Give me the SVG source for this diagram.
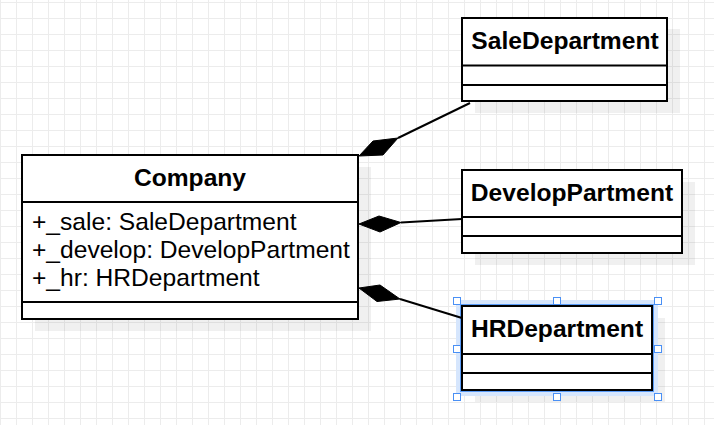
<svg xmlns="http://www.w3.org/2000/svg" width="714" height="425" viewBox="0 0 714 425">
<defs>
<pattern id="grid" x="0" y="2" width="16" height="16" patternUnits="userSpaceOnUse">
<path d="M0.5 0 V16 M0 0.5 H16" fill="none" stroke="#ececec" stroke-width="1"/>
</pattern>
</defs>
<style>
.box{fill:#ffffff;stroke:#000000;stroke-width:2}
.sep{stroke:#000000;stroke-width:2}
.shadow{fill:#000000;fill-opacity:0.06}
.title{font-family:"Liberation Sans",Arial,sans-serif;font-weight:bold;font-size:24.6px;fill:#000000;text-anchor:middle}
.attr{font-family:"Liberation Sans",Arial,sans-serif;font-size:24.6px;fill:#000000}
.conn{stroke:#000000;stroke-width:2;fill:none}
.dia{fill:#000000;stroke:#000000;stroke-width:1}
.handle{fill:#ffffff;stroke:#4a90f5;stroke-width:1}
</style>
<rect width="714" height="425" fill="#ffffff"/>
<rect width="714" height="425" fill="url(#grid)"/>

<g id="company">
<rect class="shadow" x="35" y="167" width="336" height="164"/>
<rect class="box" x="22" y="155" width="336" height="164"/>
<line class="sep" x1="22" y1="202" x2="358" y2="202"/>
<line class="sep" x1="22" y1="302" x2="358" y2="302"/>
<text class="title" x="190" y="186">Company</text>
<text class="attr" x="32" y="230">+_sale: SaleDepartment</text>
<text class="attr" x="32" y="258">+_develop: DevelopPartment</text>
<text class="attr" x="32" y="286">+_hr: HRDepartment</text>
</g>

<g id="saledepartment">
<rect class="shadow" x="475" y="29" width="205" height="84"/>
<rect class="box" x="462" y="18" width="205" height="83"/>
<line class="sep" x1="462" y1="65.5" x2="667" y2="65.5"/>
<line class="sep" x1="462" y1="85" x2="667" y2="85"/>
<text class="title" x="565" y="49">SaleDepartment</text>
</g>

<g id="developpartment">
<rect class="shadow" x="475" y="182" width="220" height="83"/>
<rect class="box" x="462" y="170" width="220" height="83"/>
<line class="sep" x1="462" y1="217" x2="682" y2="217"/>
<line class="sep" x1="462" y1="236" x2="682" y2="236"/>
<text class="title" x="572" y="201">DevelopPartment</text>
</g>

<g id="hrdepartment">
<rect class="shadow" x="475" y="318" width="190" height="84"/>
<rect x="459" y="303" width="196" height="90" fill="none" stroke="#d6e6fd" stroke-width="6"/>
<rect x="461" y="305" width="192" height="86" fill="none" stroke="#5a9cf8" stroke-width="2"/>
<rect class="box" x="462" y="306" width="190" height="84"/>
<line class="sep" x1="462" y1="354" x2="652" y2="354"/>
<line class="sep" x1="462" y1="373" x2="652" y2="373"/>
<text class="title" x="557" y="337">HRDepartment</text>
<rect class="handle" x="453.5" y="297.5" width="7" height="7"/>
<rect class="handle" x="553.5" y="297.5" width="7" height="7"/>
<rect class="handle" x="654.5" y="297.5" width="7" height="7"/>
<rect class="handle" x="453.5" y="345.5" width="7" height="7"/>
<rect class="handle" x="654.5" y="345.5" width="7" height="7"/>
<rect class="handle" x="453.5" y="393.5" width="7" height="7"/>
<rect class="handle" x="553.5" y="393.5" width="7" height="7"/>
<rect class="handle" x="654.5" y="393.5" width="7" height="7"/>
</g>

<g id="connectors">
<line class="conn" x1="398" y1="138" x2="470" y2="103"/>
<polygon class="dia" points="359,156 373,141 398,138 383,155"/>
<line class="conn" x1="401" y1="222.5" x2="462" y2="219"/>
<polygon class="dia" points="359,224 379,216 401,222.5 380,232"/>
<line class="conn" x1="400" y1="299" x2="462" y2="318"/>
<polygon class="dia" points="359,288 380,285 400,299 377,301.5"/>
</g>
</svg>
